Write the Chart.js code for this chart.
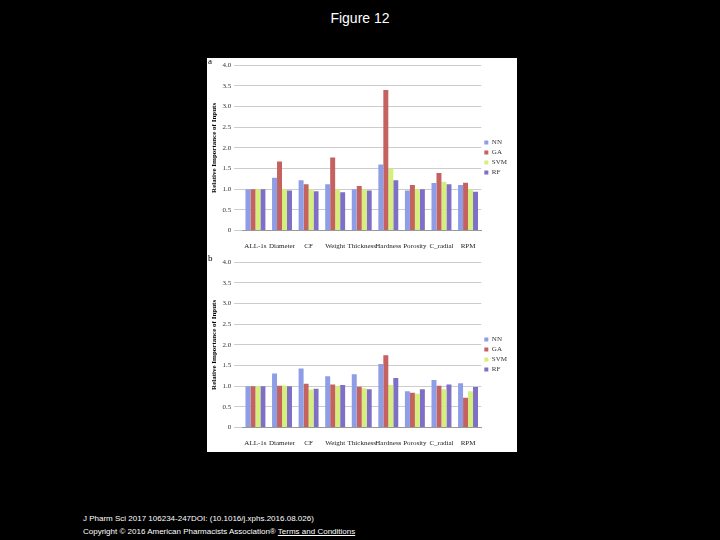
<!DOCTYPE html><html><head><meta charset="utf-8">
<script src="https://cdn.jsdelivr.net/npm/chart.js@4"></script>
<style>
body{margin:0;background:#000;width:720px;height:540px;position:relative;overflow:hidden;font-family:"Liberation Sans",Arial,sans-serif}
#t{position:absolute;top:10px;width:720px;text-align:center;color:#fff;font-size:14px}
.p{position:absolute;left:207px;width:310px;height:197px;background:#fff}
.lab{position:absolute;left:1px;top:-2px;font:9px "Liberation Serif";color:#000}
#f{position:absolute;left:83px;top:512px;color:#fff;font-size:8px;line-height:13px}
</style></head><body>
<div id="t">Figure 12</div>
<div class="p" style="top:58px"><canvas id="ca" width="310" height="197"></canvas><div class="lab">a</div></div>
<div class="p" style="top:255px"><canvas id="cb" width="310" height="197"></canvas><div class="lab">b</div></div>
<div id="f">J Pharm Sci 2017 106234-247DOI: (10.1016/j.xphs.2016.08.026)<br>Copyright © 2016 American Pharmacists Association® <u>Terms and Conditions</u></div>
<script>
const categories=["ALL-1s","Diameter","CF","Weight","Thickness","Hardness","Porosity","C_radial","RPM"];
const seriesNames=["NN","GA","SVM","RF"];
const colors=["#8e9ee6","#c5625f","#d4ef7c","#7f6fc6"];
const aNN=[1,1.28,1.22,1.12,1,1.6,0.97,1.15,1.1];
const aGA=[1,1.67,1.12,1.77,1.08,3.4,1.1,1.39,1.16];
const aSVM=[1,1,1,1,1,1.5,1,1.18,1];
const aRF=[1,0.97,0.95,0.93,0.97,1.22,1,1.12,0.94];
const bNN=[1,1.31,1.43,1.24,1.29,1.54,0.88,1.15,1.07];
const bGA=[1,1.01,1.06,1.04,0.99,1.75,0.84,1.01,0.72];
const bSVM=[1,1.02,0.92,1.0,0.95,1.03,0.82,0.93,0.88];
const bRF=[1,1,0.94,1.03,0.93,1.2,0.93,1.04,0.98];
const yTicks=[0,0.5,1,1.5,2,2.5,3,3.5,4];
function make(id,sets){
 new Chart(document.getElementById(id),{type:'bar',
  data:{labels:categories,datasets:sets.map((d,i)=>({label:seriesNames[i],data:d,backgroundColor:colors[i],categoryPercentage:0.75,barPercentage:1}))},
  options:{responsive:false,animation:false,
   layout:{padding:{top:4,right:0,left:2,bottom:2}},
   plugins:{legend:{position:'right',labels:{boxWidth:4,boxHeight:4,padding:3,font:{family:'Liberation Serif',size:7},color:'#333'}},tooltip:{enabled:false}},
   scales:{x:{grid:{display:false},border:{color:'#999'},ticks:{font:{family:'Liberation Serif',size:7},color:'#222',maxRotation:0,autoSkip:false}},
    y:{min:0,max:4,afterBuildTicks:a=>{a.ticks=yTicks.map(v=>({value:v}))},grid:{color:'#ccc'},border:{display:false},
     ticks:{font:{family:'Liberation Serif',size:7},color:'#333'},
     title:{display:true,text:'Relative Importance of Inputs',font:{family:'Liberation Serif',size:7,weight:'bold'},color:'#000',padding:1}}}}});
}
make('ca',[aNN,aGA,aSVM,aRF]);
make('cb',[bNN,bGA,bSVM,bRF]);
</script></body></html>
